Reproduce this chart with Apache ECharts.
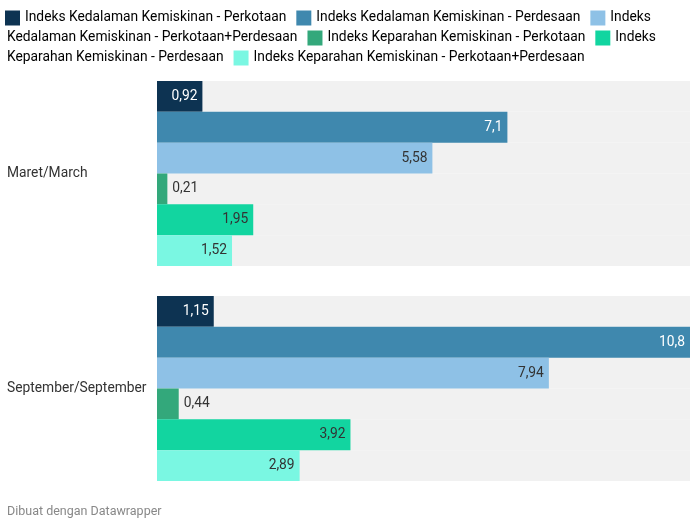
<!DOCTYPE html>
<html>
<head>
<meta charset="utf-8">
<script src="https://cdn.jsdelivr.net/npm/echarts@6/dist/echarts.min.js"></script>
<style>
html, body { margin: 0; padding: 0; background: #fff; }
#chart { width: 699px; height: 525px; }
</style>
</head>
<body>
<div id="chart"></div>
<script>
var categories = ['Maret/March', 'September/September'];
var seriesNames = [
    'Indeks Kedalaman Kemiskinan - Perkotaan',
    'Indeks Kedalaman Kemiskinan - Perdesaan',
    'Indeks Kedalaman Kemiskinan - Perkotaan+Perdesaan',
    'Indeks Keparahan Kemiskinan - Perkotaan',
    'Indeks Keparahan Kemiskinan - Perdesaan',
    'Indeks Keparahan Kemiskinan - Perkotaan+Perdesaan'
];
var kedalamanKota = [0.92, 1.15];
var kedalamanDesa = [7.1, 10.8];
var kedalamanTotal = [5.58, 7.94];
var keparahanKota = [0.21, 0.44];
var keparahanDesa = [1.95, 3.92];
var keparahanTotal = [1.52, 2.89];
var seriesValues = [kedalamanKota, kedalamanDesa, kedalamanTotal, keparahanKota, keparahanDesa, keparahanTotal];

var colors = ['#0d3352', '#3f88ae', '#8ec1e6', '#33a87b', '#12d5a0', '#7af7e2'];
var labelColors = ['#ffffff', '#ffffff', '#333333', '#333333', '#333333', '#333333'];
var labelPos = ['insideRight', 'insideRight', 'insideRight', 'right', 'insideRight', 'insideRight'];

// legend wraps mid-name like the original, so lay it out as rich text lines
function legendLine(parts) {
    var s = '';
    parts.forEach(function (p) {
        if (p.box !== undefined) s += '{b' + p.box + '|}{t|' + p.text + '}';
        else s += '{f|' + p.text + '}';
    });
    return s;
}
var legendLines = [
    legendLine([{box: 0, text: seriesNames[0]}, {box: 1, text: seriesNames[1]}, {box: 2, text: 'Indeks'}]),
    legendLine([{text: 'Kedalaman Kemiskinan - Perkotaan+Perdesaan'}, {box: 3, text: seriesNames[3]}, {box: 4, text: 'Indeks'}]),
    legendLine([{text: 'Keparahan Kemiskinan - Perdesaan'}, {box: 5, text: seriesNames[5]}])
];
var rich = {
    t: { fontSize: 13.8, color: '#333', fontFamily: 'Roboto', padding: [0, 10, 0, 5] },
    f: { fontSize: 13.8, color: '#333', fontFamily: 'Roboto', padding: [0, 10, 0, 0] }
};
colors.forEach(function (c, i) {
    rich['b' + i] = { width: 15, height: 15, backgroundColor: c };
});

var chart = echarts.init(document.getElementById('chart'));
var option = {
    animation: false,
    textStyle: { fontFamily: 'Roboto' },
    grid: { left: 157, right: 9, top: 66, bottom: 29 },
    xAxis: { type: 'value', min: 0, max: 10.8, show: false },
    yAxis: {
        type: 'category',
        data: categories,
        inverse: true,
        axisLine: { show: false },
        axisTick: { show: false },
        axisLabel: { align: 'left', margin: 150, fontSize: 13.8, color: '#333' }
    },
    graphic: legendLines.map(function (line, i) {
        return {
            type: 'text',
            left: i === 0 ? 5 : 7,
            top: 8 + i * 20,
            style: { text: line, rich: rich, lineHeight: 20 }
        };
    }).concat([{
        type: 'text',
        left: 7,
        top: 505,
        style: { text: 'Dibuat dengan Datawrapper', fontSize: 12.5, fill: '#888', fontFamily: 'Roboto' }
    }]),
    series: seriesNames.map(function (name, i) {
        return {
            name: name,
            type: 'bar',
            data: seriesValues[i],
            barGap: '0%',
            barCategoryGap: '13.95%',
            itemStyle: { color: colors[i] },
            showBackground: true,
            backgroundStyle: { color: '#f1f1f1' },
            label: {
                show: true,
                position: labelPos[i],
                color: labelColors[i],
                fontSize: 13.8,
                formatter: function (p) { return String(p.value).replace('.', ','); }
            }
        };
    })
};
chart.setOption(option);
</script>
</body>
</html>
